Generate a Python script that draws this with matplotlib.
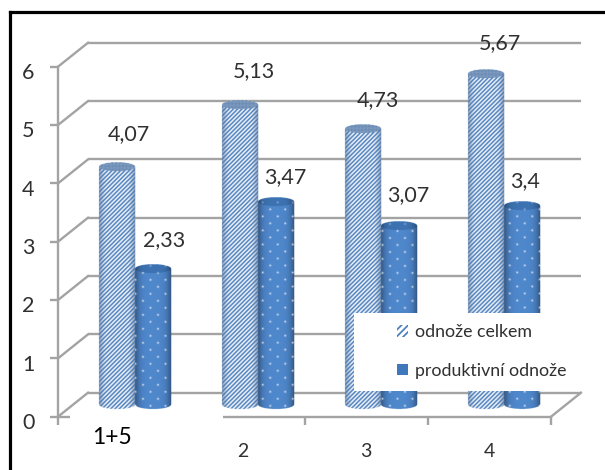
import numpy as np
import matplotlib
matplotlib.use("Agg")
import matplotlib.pyplot as plt
from matplotlib.lines import Line2D
from matplotlib.patches import Patch, Rectangle
from matplotlib.transforms import ScaledTranslation

categories = ["1+5", "2", "3", "4"]
total_tillers = [4.07, 5.13, 4.73, 5.67]
productive_tillers = [2.33, 3.47, 3.07, 3.4]
total_labels = ["4,07", "5,13", "4,73", "5,67"]
productive_labels = ["2,33", "3,47", "3,07", "3,4"]
series_names = ["odnože celkem", "produktivní odnože"]
y_ticks = [0, 1, 2, 3, 4, 5, 6]

# Page geometry, in pixels
W, H = 605, 470
PX_X0, PX_Y0 = 58.0, 416.7
PX_PER_CAT, PX_PER_UNIT = 123.25, 58.33
DEPTH_PX_X, DEPTH_PX_Y = 30.0, 24.0
BAR_PX, CAP_PX = 36.0, 4.5
GRID = "#a3a3a3"
TEXT = "#303030"

plt.rcParams["font.family"] = ["Lato", "DejaVu Sans"]
plt.rcParams["hatch.linewidth"] = 1.3

fig = plt.figure(figsize=(W / 100, H / 100), dpi=100, facecolor="white")
ax = fig.add_axes([0, 0, 1, 1])


def dx(px):
    return px / PX_PER_CAT


def dy(px):
    return px / PX_PER_UNIT


depth_x, depth_y = dx(DEPTH_PX_X), dy(DEPTH_PX_Y)


def cylinder(center, value, kind, zorder):
    """Draw one shaded cylinder with a stripe or dot texture."""
    top = value + depth_y / 2
    base = depth_y / 2
    cx_px = PX_X0 + center * PX_PER_CAT
    top_px = PX_Y0 - top * PX_PER_UNIT
    base_px = PX_Y0 - base * PX_PER_UNIT
    pad = CAP_PX + 1
    ss = 4
    xs = np.arange(cx_px - BAR_PX / 2 - 1, cx_px + BAR_PX / 2 + 1, 1 / ss)
    ys = np.arange(top_px - pad, base_px + pad, 1 / ss)
    X, Y = np.meshgrid(xs, ys)
    u = (X - cx_px) / (BAR_PX / 2)
    u_c = np.clip(u, -1, 1)
    shade = 1 - 0.38 * np.abs(u_c) ** 4

    cap = u**2 + ((Y - top_px) / CAP_PX) ** 2 <= 1
    foot = u**2 + ((Y - base_px) / CAP_PX) ** 2 <= 1
    body = (np.abs(u) <= 1) & (Y >= top_px) & (Y <= base_px)
    inside = body | cap | foot

    if kind == "stripes":
        wave = 0.5 + 0.5 * np.sin(2 * np.pi * (X + Y) / 4.3)
        wave = np.clip((wave - 0.5) * 1.7 + 0.5, 0, 1)
        blue = np.array([0.30, 0.50, 0.74])
        pale = np.array([0.96, 0.97, 0.99])
        rgb = blue[None, None] * (1 - wave[..., None]) + pale[None, None] * wave[..., None]
        edge = np.clip((np.abs(u_c) - 0.6) / 0.4, 0, 1)[..., None] ** 1.5 * 0.7
        rgb = rgb * (1 - edge) + np.array([0.34, 0.47, 0.63]) * edge
        cross = np.sin(2 * np.pi * (X - Y) / 2.8) * np.sin(2 * np.pi * (X + Y) / 2.8)
        cap_rgb = np.array([0.46, 0.58, 0.73]) + cross[..., None] * 0.16
        rgb = np.where(cap[..., None], cap_rgb, rgb)
    else:
        centre = np.array([0.31, 0.53, 0.80])
        rgb = centre[None, None] * shade[..., None]
        row = np.round(Y / 7.0)
        px = X - (row % 2) * 7.5
        dist = (px - np.round(px / 15.0) * 15.0) ** 2 + (Y - row * 7.0) ** 2
        dots = np.exp(-dist / 0.9)[..., None] * 0.85
        rgb = rgb * (1 - dots) + dots
        cap_rgb = np.array([0.24, 0.45, 0.70]) * shade[..., None] * (1 - dots * 0.5) + dots * 0.5
        rgb = np.where(cap[..., None], cap_rgb, rgb)

    rgba = np.dstack([np.clip(rgb, 0, 1), inside.astype(float)])
    ax.imshow(
        rgba,
        extent=((xs[0] - PX_X0) / PX_PER_CAT, (xs[-1] - PX_X0) / PX_PER_CAT,
                (PX_Y0 - ys[-1]) / PX_PER_UNIT, (PX_Y0 - ys[0]) / PX_PER_UNIT),
        origin="upper", aspect="auto", interpolation="hanning", zorder=zorder,
    )


# Back wall, side wall and floor outline
for v in y_ticks:
    ax.plot([depth_x, 4 + depth_x], [v + depth_y, v + depth_y], color=GRID, lw=1.7, zorder=1,
            solid_capstyle="butt")
    ax.plot([0, depth_x], [v, v + depth_y], color=GRID, lw=1.7, zorder=1)
ax.plot([4, 4 + depth_x], [0, depth_y], color=GRID, lw=1.7, zorder=1)

# Axes, ticks and value-axis labels
for side in ("top", "right"):
    ax.spines[side].set_visible(False)
for side, bounds in (("left", (0, 6)), ("bottom", (0, 4))):
    ax.spines[side].set_position(("data", 0))
    ax.spines[side].set_bounds(*bounds)
    ax.spines[side].set_color(GRID)
    ax.spines[side].set_linewidth(1.7)
ax.set_yticks(y_ticks)
ax.set_yticklabels([str(v) for v in y_ticks], fontsize=15.5, color=TEXT)
ax.set_xticks(range(len(categories) + 1))
ax.set_xticklabels([])
ax.tick_params(axis="both", length=6, width=1.7, color=GRID, direction="out")
ax.tick_params(axis="y", pad=11)
label_shift = ScaledTranslation(0, -3 / 72, fig.dpi_scale_trans)
for tick_label in ax.get_yticklabels():
    tick_label.set_transform(tick_label.get_transform() + label_shift)

# The first category label sits on a white plate that hides part of the floor edge
ax.add_patch(Rectangle((dx(12), dy(-40)), dx(153), dy(44), facecolor="white", edgecolor="none",
                       zorder=3))

# Cylinders stand mid-depth on the floor, side by side in each group
for i, (a, b) in enumerate(zip(total_tillers, productive_tillers)):
    mid = i + 0.5 + depth_x / 2
    cylinder(mid - dx(BAR_PX / 2), a, "stripes", 4 + i * 0.1)
    cylinder(mid + dx(BAR_PX / 2), b, "dots", 4.05 + i * 0.1)

# Value labels, nudged individually above their cylinders
total_offsets = [(12, 33), (14, 34), (15, 29), (14, 31)]
productive_offsets = [(11, 29), (9, 25), (9, 31), (3, 25)]
for i in range(len(categories)):
    mid = i + 0.5 + depth_x / 2
    for value, text, (ox, oy), side in (
        (total_tillers[i], total_labels[i], total_offsets[i], -1),
        (productive_tillers[i], productive_labels[i], productive_offsets[i], 1),
    ):
        ax.annotate(text, (mid + side * dx(BAR_PX / 2), value + depth_y / 2),
                    xytext=(ox * 0.72, oy * 0.72), textcoords="offset points",
                    ha="center", va="center", fontsize=15.5, color=TEXT, zorder=8)

# Category labels
for i, name in enumerate(categories):
    if i == 0:
        ax.text(i + 0.5 + dx(-7.5), dy(-20.5), name, ha="center", va="center",
                fontsize=16.5, color="black", zorder=8)
    else:
        ax.text(i + 0.5, dy(-35), name, ha="center", va="center",
                fontsize=14, color=TEXT, zorder=8)

# Legend on its own white plate, covering the cylinders behind it
ax.add_patch(Rectangle((dx(354 - PX_X0), dy(PX_Y0 - 391)), dx(231), dy(78), facecolor="white",
                       edgecolor="none", zorder=6))
handles = [
    Patch(facecolor="white", edgecolor="#4f82bf", hatch="/////", linewidth=0, label=series_names[0]),
    Patch(facecolor="#3f78bb", edgecolor="#3f78bb", linewidth=0, label=series_names[1]),
]
leg = ax.legend(handles=handles, loc="center left", frameon=False, fontsize=12.8,
                bbox_to_anchor=((388 - PX_X0) / PX_PER_CAT, dy(PX_Y0 - 351.5)),
                bbox_transform=ax.transData, handlelength=0.6, handleheight=0.6,
                handletextpad=0.4, labelspacing=1.25, borderpad=0, labelcolor=TEXT)
leg.set_zorder(7)

ax.set_xlim(-PX_X0 / PX_PER_CAT, (W - PX_X0) / PX_PER_CAT)
ax.set_ylim((PX_Y0 - H) / PX_PER_UNIT, PX_Y0 / PX_PER_UNIT)
ax.patch.set_visible(False)

# Black frame along the top and left of the page
fig.add_artist(Line2D([10 / W, 1], [1 - 12 / H] * 2, color="black", lw=2.3, transform=fig.transFigure))
fig.add_artist(Line2D([10 / W] * 2, [1 - 12 / H, 0], color="black", lw=2.3, transform=fig.transFigure))

fig.savefig("out.png", dpi=100)
